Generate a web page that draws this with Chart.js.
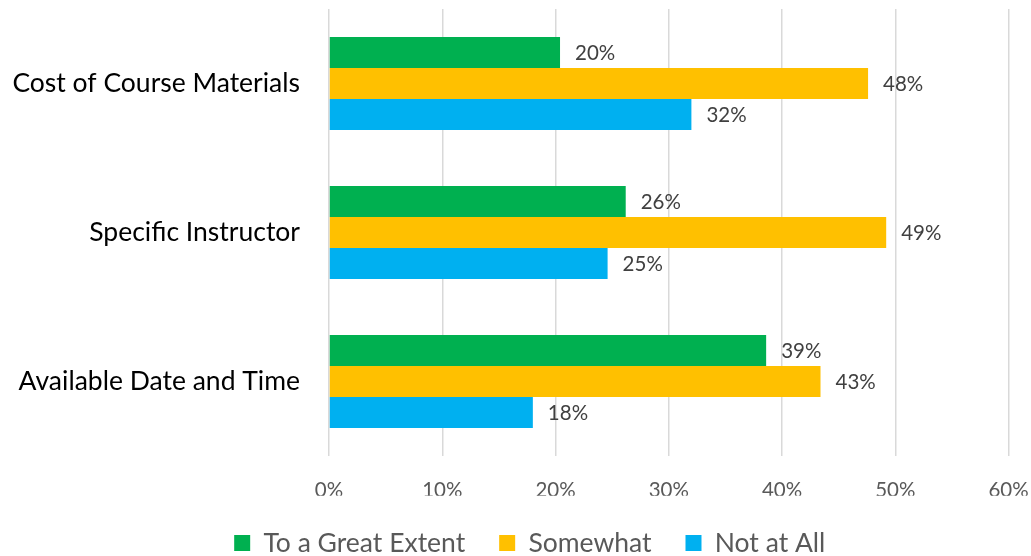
<!DOCTYPE html>
<html>
<head>
<meta charset="utf-8">
<script src="https://cdn.jsdelivr.net/npm/chart.js@4/dist/chart.umd.min.js"></script>
<style>
    html, body { margin: 0; padding: 0; background: #fff; }
    #wrap { width: 1031px; height: 556px; position: relative; }
</style>
</head>
<body>
<div id="wrap"><canvas id="chart"></canvas></div>
<script>
// ===== DATOS =====
const categories = ['Cost of Course Materials', 'Specific Instructor', 'Available Date and Time'];
const seriesNames = ['To a Great Extent', 'Somewhat', 'Not at All'];
const greatExtent = [20.4, 26.2, 38.6];
const somewhat    = [47.6, 49.2, 43.4];
const notAtAll    = [32.0, 24.6, 18.0];
const xTicks = [0, 10, 20, 30, 40, 50, 60];

const FONT = 'Lato, "Open Sans", sans-serif';
const LEGEND_SHIFT = 25.5; // la leyenda del original no está centrada

// ===== ETIQUETAS DE VALOR =====
const valueLabels = {
    id: 'valueLabels',
    afterLayout(chart) {
        // mover la leyenda a la derecha
        chart.legend.left += LEGEND_SHIFT;
        chart.legend.right += LEGEND_SHIFT;
    },
    afterDatasetsDraw(chart) {
        const ctx = chart.ctx;
        ctx.save();
        ctx.font = `20.5px ${FONT}`;
        ctx.fillStyle = '#404040';
        ctx.textAlign = 'left';
        ctx.textBaseline = 'middle';
        chart.data.datasets.forEach((ds, i) => {
            chart.getDatasetMeta(i).data.forEach((bar, j) => {
                ctx.fillText(`${Math.round(ds.data[j])}%`, bar.x + 15, bar.y + 1);
            });
        });
        ctx.restore();
    }
};

// ===== GRÁFICA =====
new Chart(document.getElementById('chart'), {
    type: 'bar',
    data: {
        labels: categories,
        datasets: [
            { label: seriesNames[0], data: greatExtent, backgroundColor: '#00B050' },
            { label: seriesNames[1], data: somewhat,    backgroundColor: '#FFC000' },
            { label: seriesNames[2], data: notAtAll,    backgroundColor: '#00B0F0' },
        ].map(d => ({ ...d, borderWidth: 0, categoryPercentage: 0.625, barPercentage: 1 }))
    },
    options: {
        indexAxis: 'y',
        responsive: true,
        maintainAspectRatio: false,
        animation: false,
        layout: { padding: { top: 9, right: 22.5, left: 0, bottom: -10.25 } },
        scales: {
            x: {
                min: 0,
                max: 60,
                afterBuildTicks: scale => { scale.ticks = xTicks.map(v => ({ value: v })); },
                afterFit: scale => {
                    scale.paddingLeft = 0;
                    scale.paddingRight = 0;
                    scale.height = 39.75; // acerca la leyenda a las etiquetas
                },
                ticks: {
                    callback: v => `${v}%`,
                    color: '#595959',
                    font: { family: FONT, size: 20.5 },
                    padding: 21.7,
                },
                grid: { color: '#d9d9d9', lineWidth: 1.5, drawTicks: false },
                border: { display: false },
            },
            y: {
                afterFit: scale => {
                    scale.width = 329;
                    scale.paddingTop = 0;
                    scale.paddingBottom = 0;
                },
                ticks: {
                    color: '#000000',
                    font: { family: FONT, size: 26.5 },
                    padding: 21,
                },
                grid: { display: false },
                border: { display: false },
            }
        },
        plugins: {
            legend: {
                position: 'bottom',
                labels: {
                    boxWidth: 16,
                    boxHeight: 16,
                    padding: 34,
                    color: '#595959',
                    font: { family: FONT, size: 26.5 },
                }
            },
            tooltip: { enabled: false }
        }
    },
    plugins: [valueLabels]
});
</script>
</body>
</html>
